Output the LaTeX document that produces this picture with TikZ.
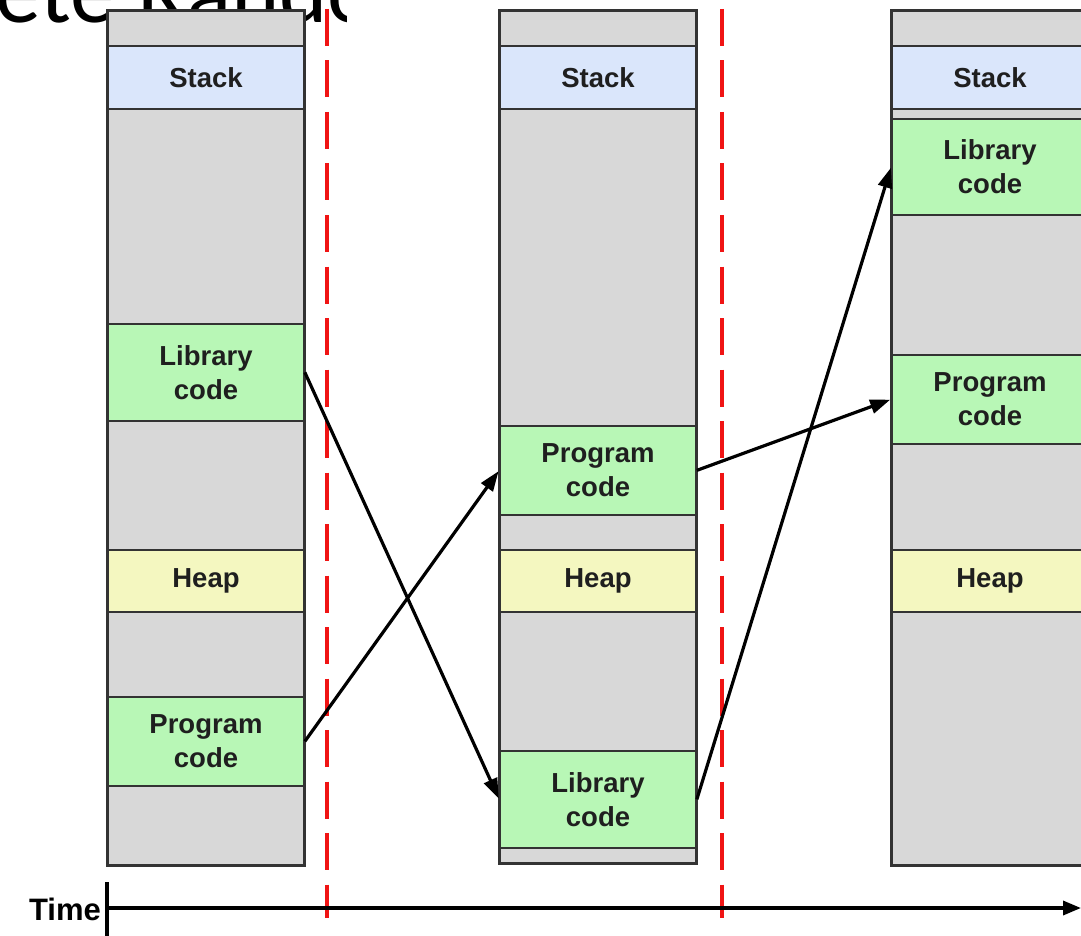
\documentclass[tikz,border=0pt]{standalone}
\usepackage{fontspec}
\setmainfont{Liberation Sans}
\newfontfamily\titlefont{Carlito}
\usetikzlibrary{arrows.meta}

\definecolor{cellgray}{HTML}{D8D8D8}
\definecolor{stackblue}{HTML}{DAE6FB}
\definecolor{codegreen}{HTML}{B8F7B6}
\definecolor{heapyellow}{HTML}{F4F7C0}
\definecolor{edgegray}{HTML}{333333}
\definecolor{dashred}{HTML}{F01414}

% one memory segment: name, x centre, top, bottom, fill, label
\newcommand{\memseg}[6]{%
  \node[seg, fill=#5, minimum height={(#4-#3)*1pt}] (#1) at (#2,#3) {#6};}

\begin{document}
\begin{tikzpicture}[x=1pt,y=-1pt,
  seg/.style={draw=edgegray, line width=1.7pt, minimum width=196pt,
    inner sep=0pt, anchor=north, align=center, text=black!88,
    font=\fontsize{27.5}{34}\selectfont\bfseries},
  frame/.style={draw=edgegray, line width=2.2pt},
  conn/.style={line width=3.2pt, -{Triangle[length=20pt,width=14pt]}, shorten >=1pt},
  epoch/.style={dashred, line width=3.6pt, dash pattern=on 37pt off 14.5pt},
  axis/.style={line width=3.4pt},
]
\useasboundingbox (0,0) rectangle (1081,936);
\clip (0,0) rectangle (1081,936);

% heading line, cut by the top edge and hidden on the right
\begin{scope}
  \clip (0,0) rectangle (346,40);
  \node[anchor=base west, inner sep=0pt, font=\titlefont\fontsize{92}{92}\selectfont]
    (heading) at (-245,23) {Complete Randomization};
\end{scope}

% first run
\memseg{a0}{206}{10}{45}{cellgray}{}
\memseg{stackA}{206}{45}{108}{stackblue}{Stack}
\memseg{a1}{206}{108}{323}{cellgray}{}
\memseg{libA}{206}{323}{420}{codegreen}{Library\\code}
\memseg{a2}{206}{420}{549}{cellgray}{}
\memseg{heapA}{206}{549}{611}{heapyellow}{Heap}
\memseg{a3}{206}{611}{696}{cellgray}{}
\memseg{progA}{206}{696}{785}{codegreen}{Program\\code}
\memseg{a4}{206}{785}{864}{cellgray}{}
\draw[frame] (a0.north west) rectangle (a4.south east);

% second run
\memseg{b0}{598}{10}{45}{cellgray}{}
\memseg{stackB}{598}{45}{108}{stackblue}{Stack}
\memseg{b1}{598}{108}{425}{cellgray}{}
\memseg{progB}{598}{425}{514}{codegreen}{Program\\code}
\memseg{b2}{598}{514}{549}{cellgray}{}
\memseg{heapB}{598}{549}{611}{heapyellow}{Heap}
\memseg{b3}{598}{611}{750}{cellgray}{}
\memseg{libB}{598}{750}{847}{codegreen}{Library\\code}
\memseg{b4}{598}{847}{862}{cellgray}{}
\draw[frame] (b0.north west) rectangle (b4.south east);

% third run
\memseg{c0}{990}{10}{45}{cellgray}{}
\memseg{stackC}{990}{45}{108}{stackblue}{Stack}
\memseg{c1}{990}{108}{118}{cellgray}{}
\memseg{libC}{990}{118}{214}{codegreen}{Library\\code}
\memseg{c2}{990}{214}{354}{cellgray}{}
\memseg{progC}{990}{354}{443}{codegreen}{Program\\code}
\memseg{c3}{990}{443}{549}{cellgray}{}
\memseg{heapC}{990}{549}{611}{heapyellow}{Heap}
\memseg{c4}{990}{611}{864}{cellgray}{}
\draw[frame] (c0.north west) rectangle (c4.south east);

% boundaries between runs
\coordinate (r1top) at (327,9);  \coordinate (r1bot) at (327,918);
\coordinate (r2top) at (722,9);  \coordinate (r2bot) at (722,918);
\draw[epoch] (r1top) -- (r1bot);
\draw[epoch] (r2top) -- (r2bot);

% relocation of the code regions
\draw[conn] (libA.east) -- (libB.west);
\draw[conn] (progA.east) -- (progB.west);
\draw[conn] (progB.east) -- (progC.west);
\draw[conn] (libB.east) -- (libC.west);

% time axis
\coordinate (t0) at (107,908);
\coordinate (t1) at (1081,908);
\coordinate (tickTop) at (107,882);
\coordinate (tickBot) at (107,940);
\draw[axis, -{Triangle[length=18pt,width=14pt]}] (t0) -- (t1);
\draw[axis] (tickTop) -- (tickBot);
\node[anchor=east, inner sep=0pt, font=\fontsize{31}{31}\selectfont\bfseries]
  (timelabel) at (101,909) {Time};
\end{tikzpicture}
\end{document}
